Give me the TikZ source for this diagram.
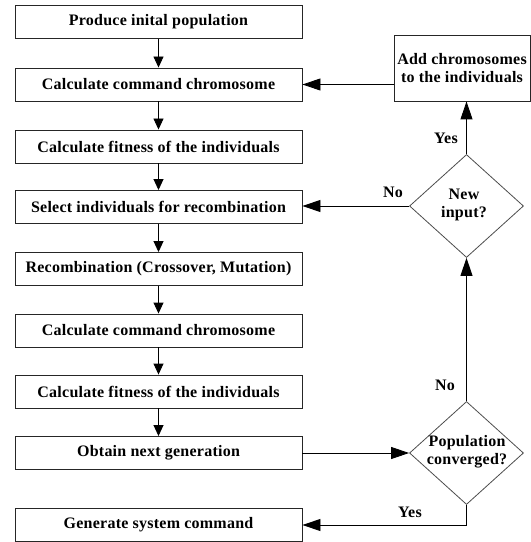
\documentclass[tikz,border=0pt]{standalone}
\usepackage{fontspec}
\setmainfont{Liberation Serif}[LetterSpace=1.5]
\usetikzlibrary{arrows.meta,shapes.geometric}
\begin{document}
\begin{tikzpicture}[x=1bp,y=-1bp,
  every node/.style={font=\fontsize{16bp}{18bp}\selectfont\bfseries},
  stepbox/.style={draw=black!85,line width=0.9bp,minimum width=287bp,minimum height=33bp,inner sep=0pt},
  addbox/.style={draw=black!85,line width=0.9bp,minimum width=136bp,minimum height=66bp,inner sep=0pt,align=center},
  decision/.style={draw=black!70,line width=0.8bp,shape=diamond,minimum width=114bp,minimum height=103bp,inner sep=0pt},
  dtext/.style={align=center,inner sep=0pt,font=\fontsize{16bp}{18bp}\selectfont\bfseries},
  tag/.style={inner sep=0pt},
  smallarr/.style={draw=black,line width=0.9bp,-{Triangle[length=11bp,width=10bp]}},
  bigarr/.style={draw=black,line width=0.9bp,-{Triangle[length=18bp,width=12bp]}}
]
\useasboundingbox (0,0) rectangle (531,542);

\node[stepbox] (b1) at (158.5,22)    {Produce inital population};
\node[stepbox] (b2) at (158.5,84.5)  {Calculate command chromosome};
\node[stepbox] (b3) at (158.5,146.5) {Calculate fitness of the individuals};
\node[stepbox] (b4) at (158.5,207)   {Select individuals for recombination};
\node[stepbox] (b5) at (158.5,269)   {Recombination (Crossover, Mutation)};
\node[stepbox] (b6) at (158.5,330.5) {Calculate command chromosome};
\node[stepbox] (b7) at (158.5,391.5) {Calculate fitness of the individuals};
\node[stepbox] (b8) at (158.5,453)   {Obtain next generation};
\node[stepbox] (b9) at (158.5,525)   {Generate system command};

\node[addbox] (add) at (462,68) {Add chromosomes\\to the individuals};

\node[decision] (d1) at (466.5,206) {};
\node[dtext] (d1t) at (464,205) {New\\input?};
\node[decision] (d2) at (466.5,453) {};
\node[dtext] (d2t) at (467,452) {Population\\converged?};

\node[tag] (yes1) at (446,138) {Yes};
\node[tag] (no1)  at (393,192) {No};
\node[tag] (no2)  at (445,385) {No};
\node[tag] (yes2) at (410,512) {Yes};

\draw[smallarr] (b1) -- (b2);
\draw[smallarr] (b2) -- (b3);
\draw[smallarr] (b3) -- (b4);
\draw[smallarr] (b4) -- (b5);
\draw[smallarr] (b5) -- (b6);
\draw[smallarr] (b6) -- (b7);
\draw[smallarr] (b7) -- (b8);

\draw[bigarr] (add.west |- b2.east) -- (b2.east);
\draw[bigarr] (d1.north) -- (d1.north |- add.south);
\draw[bigarr] (d1.west) -- (b4.east |- d1.west);
\draw[bigarr] (b8.east) -- (d2.west);
\draw[bigarr] (d2.north) -- (d1.south);
\draw[bigarr] (d2.south) |- (b9.east);
\end{tikzpicture}
\end{document}
